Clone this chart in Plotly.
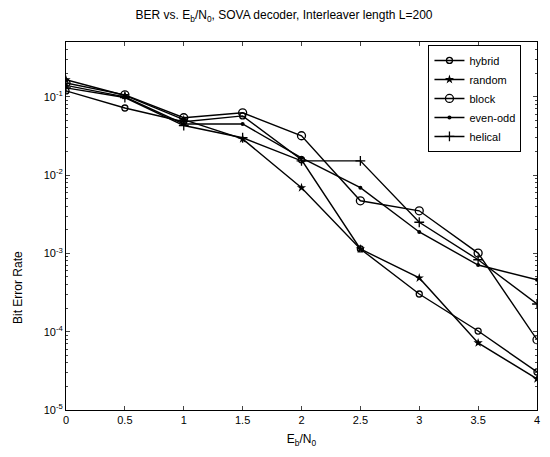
import plotly.graph_objects as go

ebno = [0, 0.5, 1, 1.5, 2, 2.5, 3, 3.5, 4]
hybrid = [0.119, 0.072, 0.048, 0.057, 0.0157, 0.00114, 0.000303, 0.000102, 3.06e-5]
random_ = [0.165, 0.104, 0.051, 0.029, 0.0069, 0.00114, 0.000486, 7.2e-5, 2.5e-5]
block = [0.15, 0.106, 0.054, 0.0625, 0.0318, 0.0047, 0.0035, 0.00101, 7.9e-5]
even_odd = [0.14, 0.1, 0.045, 0.045, 0.0166, 0.0069, 0.00188, 0.00071, 0.00046]
helical = [0.13, 0.098, 0.043, 0.03, 0.0152, 0.0152, 0.0025, 0.00083, 0.000226]

names = ["hybrid", "random", "block", "even-odd", "helical"]
series = [hybrid, random_, block, even_odd, helical]
markers = [
    dict(symbol="circle-open", size=6, line=dict(width=1.3, color="black")),
    dict(symbol="star", size=7, color="black"),
    dict(symbol="circle-open", size=8, line=dict(width=1.3, color="black")),
    dict(symbol="circle", size=4, color="black"),
    dict(symbol="cross-thin-open", size=7, line=dict(width=1.3, color="black")),
]

x_ticks = [0, 0.5, 1, 1.5, 2, 2.5, 3, 3.5, 4]
x_labels = ["0", "0.5", "1", "1.5", "2", "2.5", "3", "3.5", "4"]
y_ticks = [1e-5, 1e-4, 1e-3, 1e-2, 1e-1]
y_labels = ["10<sup>-5</sup>", "10<sup>-4</sup>", "10<sup>-3</sup>", "10<sup>-2</sup>", "10<sup>-1</sup>"]
minor_vals = [m * 10 ** e for e in range(-5, 0) for m in range(2, 10)]

fig = go.Figure()
for n, s, mk in zip(names, series, markers):
    fig.add_trace(go.Scatter(x=ebno, y=s, name=n, mode="lines+markers",
                             line=dict(color="black", width=1.4), marker=mk))

font = "Liberation Sans, Arial, sans-serif"
W, H = 550, 457
ml, mr, mt, mb = 66, 13, 42, 47
fig.update_layout(
    width=W, height=H,
    margin=dict(l=ml, r=mr, t=mt, b=mb, autoexpand=False),
    paper_bgcolor="white", plot_bgcolor="white",
    font=dict(family=font, size=11, color="black"),
    title=dict(text="BER vs. E<sub>b</sub>/N<sub>0</sub>, SOVA decoder, Interleaver length L=200",
               x=284 / W, xanchor="center", y=1 - 15 / H, yanchor="middle", font=dict(size=12)),
    showlegend=True,
    legend=dict(x=0.967, xanchor="right", y=0.992, yanchor="top",
                bgcolor="white", bordercolor="black", borderwidth=1,
                font=dict(size=11), tracegroupgap=0, itemwidth=30),
    annotations=[dict(text="Bit Error Rate", textangle=-90, xref="paper", yref="paper",
                      x=(18 - ml) / (W - ml - mr), y=(H - mb - 288) / (H - mt - mb),
                      xanchor="center", yanchor="middle", showarrow=False,
                      font=dict(size=12))],
)
fig.update_xaxes(range=[0, 4], tickvals=x_ticks, ticktext=x_labels, automargin=False,
                 ticks="inside", ticklen=4, showline=True, linecolor="black", linewidth=1,
                 mirror="ticks", showgrid=False, zeroline=False,
                 title=dict(text="E<sub>b</sub>/N<sub>0</sub>", standoff=9, font=dict(size=12)))
fig.update_yaxes(type="log", range=[-5, -0.3], tickvals=y_ticks, ticktext=y_labels,
                 automargin=False,
                 ticks="inside", ticklen=4, showline=True, linecolor="black", linewidth=1,
                 mirror="ticks", showgrid=False, zeroline=False,
                 minor=dict(tickvals=minor_vals, ticks="inside", ticklen=2, showgrid=False))

fig.write_html("out.html", config={"displayModeBar": False},
               post_script="document.body.style.margin='0';")
